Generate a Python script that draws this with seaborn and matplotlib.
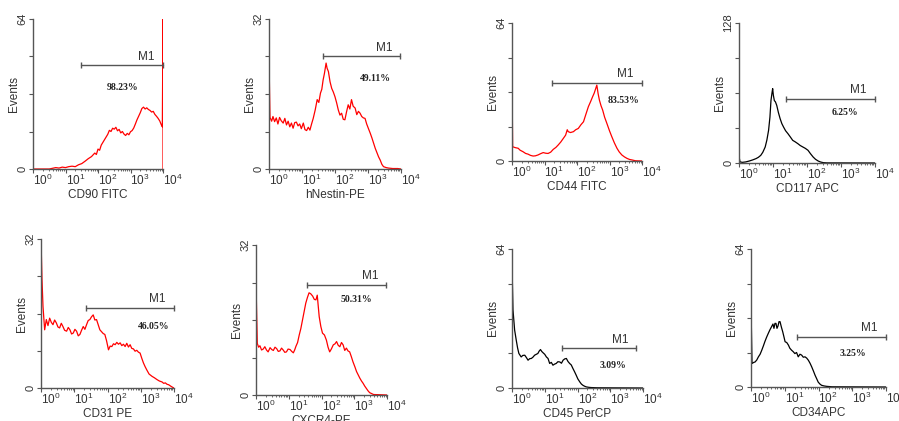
import numpy as np
import pandas as pd
import matplotlib
matplotlib.use("Agg")
import matplotlib.pyplot as plt
import seaborn as sns

# histogram traces, x in decades (10^0 .. 10^4), y = events
cd90_x = [0.0, 0.3, 0.5, 0.6, 0.7, 0.8, 0.9, 1.0, 1.1, 1.2, 1.3, 1.4, 1.5, 1.6, 1.7, 1.8, 1.9, 1.95, 2.0, 2.05,
          2.1, 2.2, 2.3, 2.35, 2.4, 2.45, 2.5, 2.55, 2.6, 2.65, 2.7, 2.75, 2.8, 2.85, 2.9, 2.95, 3.0, 3.05, 3.1,
          3.15, 3.2, 3.25, 3.3, 3.35, 3.4, 3.45, 3.5, 3.55, 3.6, 3.65, 3.7, 3.75, 3.8, 3.85, 3.9, 3.95, 3.98,
          4.0, 4.0]
cd90_y = [0, 0, 0, 0.3, 0.6, 0.4, 0.8, 0.6, 1.0, 1.2, 1.0, 1.8, 2.3, 3.3, 4.4, 5.3, 6.8, 6.2, 8.5, 8.0,
          10.2, 12.5, 14.8, 16.5, 16.0, 17.4, 17.0, 17.8, 16.3, 16.9, 15.4, 16.0, 14.9, 14.3, 15.2, 14.6, 15.9,
          16.4, 17.5, 19.2, 21.0, 22.5, 24.0, 25.8, 26.4, 25.6, 26.1, 25.4, 25.0, 24.3, 24.6, 23.3, 22.5, 21.6,
          20.5, 18.8, 18.0, 64, 0]

nestin_x = [0.0, 0.0, 0.03, 0.08, 0.12, 0.17, 0.22, 0.27, 0.32, 0.37, 0.43, 0.48, 0.53, 0.58, 0.63, 0.68, 0.73,
            0.78, 0.83, 0.88, 0.93, 0.98, 1.04, 1.09, 1.14, 1.19, 1.24, 1.29, 1.34, 1.40, 1.46, 1.51, 1.56, 1.60,
            1.64, 1.68, 1.73, 1.76, 1.80, 1.85, 1.90, 1.95, 2.0, 2.05, 2.10, 2.15, 2.20, 2.25, 2.30, 2.35, 2.40,
            2.45, 2.50, 2.55, 2.61, 2.66, 2.71, 2.76, 2.81, 2.86, 2.91, 2.96, 3.02, 3.07, 3.12, 3.17, 3.22, 3.27,
            3.32, 3.37, 3.42, 3.47, 3.55, 3.62, 3.75, 3.9, 4.0]
nestin_y = [0, 23.4, 11.0, 10.2, 11.2, 10.1, 10.9, 9.6, 11.0, 10.3, 9.8, 10.8, 9.4, 10.2, 9.0, 9.8, 8.7, 9.9,
            10.0, 9.2, 9.6, 8.6, 9.8, 8.4, 8.2, 8.9, 8.3, 9.6, 10.8, 12.6, 14.8, 14.2, 16.2, 17.0, 19.0, 20.4,
            22.6, 21.5, 20.8, 18.6, 17.2, 16.4, 15.4, 14.1, 12.6, 11.5, 11.9, 10.6, 10.5, 12.2, 13.7, 12.8, 14.8,
            13.4, 13.0, 11.6, 12.3, 11.9, 11.2, 10.9, 10.8, 9.6, 8.5, 7.6, 6.6, 5.5, 4.4, 3.5, 2.6, 1.9, 1.0, 0.5,
            0.3, 0.2, 0.1, 0.1, 0]

cd44_x = [0, 0, 0.02, 0.1, 0.19, 0.25, 0.34, 0.42, 0.49, 0.57, 0.65, 0.72, 0.8, 0.88, 0.96, 1.04, 1.11, 1.19,
          1.27, 1.35, 1.42, 1.50, 1.58, 1.65, 1.70, 1.73, 1.80, 1.89, 1.96, 2.04, 2.12, 2.20, 2.27, 2.35, 2.42,
          2.48, 2.53, 2.58, 2.61, 2.65, 2.69, 2.74, 2.79, 2.85, 2.92, 3.0, 3.07, 3.15, 3.23, 3.30, 3.38, 3.46,
          3.54, 3.62, 3.69, 3.8, 4.0]
cd44_y = [0, 37.5, 6.6, 6.2, 5.9, 5.0, 4.3, 3.5, 3.2, 2.6, 2.3, 2.4, 2.8, 3.4, 3.9, 3.6, 3.5, 4.1, 5.4, 6.3,
          7.4, 8.8, 10.5, 12.0, 14.5, 13.6, 13.2, 13.6, 14.5, 15.1, 16.8, 18.2, 21.5, 25.2, 27.6, 29.8, 31.5,
          33.8, 35.2, 31.2, 28.2, 25.6, 23.6, 20.3, 17.4, 14.0, 11.3, 8.4, 5.9, 4.2, 2.8, 1.9, 1.2, 0.7, 0.5,
          0.1, 0]

cd117_x = [0, 0, 0.03, 0.1, 0.2, 0.3, 0.4, 0.5, 0.57, 0.64, 0.70, 0.77, 0.82, 0.87, 0.91, 0.94, 0.97, 0.99,
           1.01, 1.04, 1.07, 1.11, 1.16, 1.21, 1.26, 1.31, 1.37, 1.44, 1.51, 1.58, 1.65, 1.73, 1.80, 1.88,
           1.95, 2.03, 2.10, 2.18, 2.25, 2.33, 2.40, 2.48, 2.6, 4.0]
cd117_y = [0, 6, 1.0, 0.6, 1.0, 1.8, 2.8, 4.0, 5.2, 7.0, 9.8, 14.6, 21, 29.9, 42, 57, 64, 68, 62, 57, 56,
           52.7, 46, 40.5, 36, 32.9, 29.5, 26.8, 23.8, 20.7, 19.4, 17.7, 16.0, 14.6, 13.4, 11.6, 8.6, 5.5,
           3.4, 1.8, 0.9, 0.3, 0.1, 0]

cd31_x = [0, 0, 0.03, 0.06, 0.11, 0.16, 0.21, 0.26, 0.31, 0.36, 0.41, 0.46, 0.51, 0.56, 0.61, 0.66, 0.71,
          0.77, 0.82, 0.87, 0.92, 0.97, 1.02, 1.07, 1.12, 1.17, 1.22, 1.27, 1.32, 1.37, 1.42, 1.47, 1.52, 1.57,
          1.62, 1.67, 1.72, 1.77, 1.82, 1.87, 1.92, 1.97, 2.03, 2.08, 2.13, 2.18, 2.23, 2.28, 2.33, 2.38, 2.43,
          2.48, 2.53, 2.58, 2.63, 2.68, 2.73, 2.78, 2.83, 2.88, 2.93, 2.98, 3.03, 3.08, 3.13, 3.18, 3.25, 3.34,
          3.41, 3.49, 3.56, 3.64, 3.69, 3.74, 3.79, 3.84, 3.9, 3.97, 4.0]
cd31_y = [0, 31.9, 23.3, 17.5, 12.5, 14.7, 13.4, 15.0, 14.1, 13.6, 14.6, 14.0, 13.1, 12.9, 13.9, 13.2, 12.4,
          12.2, 13.0, 12.5, 11.6, 11.8, 12.6, 12.2, 11.2, 11.5, 12.4, 13.2, 12.6, 13.6, 14.5, 14.7, 15.3, 15.7,
          14.6, 14.7, 13.6, 12.5, 12.1, 11.7, 11.5, 10.2, 8.2, 9.0, 8.9, 9.5, 9.3, 9.8, 9.4, 9.7, 9.1, 9.4, 8.9,
          9.6, 8.8, 9.3, 8.5, 8.4, 7.9, 8.1, 7.7, 7.5, 6.4, 5.4, 4.6, 3.9, 3.0, 2.5, 2.2, 1.8, 1.5, 1.3, 1.0,
          1.1, 0.8, 0.7, 0.4, 0.1, 0]

cxcr4_x = [0, 0, 0.04, 0.08, 0.12, 0.17, 0.22, 0.27, 0.32, 0.37, 0.43, 0.48, 0.53, 0.58, 0.63, 0.68, 0.73,
           0.78, 0.83, 0.88, 0.93, 0.98, 1.04, 1.09, 1.14, 1.18, 1.22, 1.27, 1.32, 1.37, 1.42, 1.47, 1.52, 1.57,
           1.62, 1.67, 1.73, 1.78, 1.83, 1.87, 1.90, 1.93, 1.98, 2.03, 2.09, 2.15, 2.20, 2.25, 2.30, 2.36, 2.41,
           2.46, 2.51, 2.56, 2.61, 2.66, 2.71, 2.76, 2.81, 2.86, 2.91, 2.96, 3.02, 3.07, 3.12, 3.17, 3.22, 3.27,
           3.32, 3.37, 3.42, 3.47, 3.53, 3.59, 4.0]
cxcr4_y = [0, 23.8, 11.0, 10.2, 10.5, 9.6, 9.8, 10.3, 9.6, 9.2, 10.1, 9.7, 9.5, 10.2, 9.9, 9.3, 9.4, 10.0,
           9.6, 9.1, 9.2, 9.8, 9.7, 9.3, 9.0, 9.6, 10.4, 11.2, 12.8, 14.2, 16.0, 17.8, 19.6, 20.8, 21.8, 21.6,
           21.1, 20.4, 20.3, 21.3, 19.0, 16.7, 14.6, 13.2, 12.8, 11.7, 10.2, 9.2, 9.8, 10.7, 10.9, 11.4, 10.6,
           10.3, 11.2, 10.7, 9.5, 10.0, 9.4, 9.2, 8.2, 7.1, 6.0, 5.0, 4.3, 3.6, 3.0, 2.5, 1.9, 1.4, 0.9, 0.5,
           0.3, 0.1, 0]

cd45_x = [0, 0, 0.03, 0.08, 0.13, 0.17, 0.21, 0.28, 0.33, 0.39, 0.44, 0.49, 0.54, 0.59, 0.64, 0.69, 0.74,
          0.79, 0.83, 0.87, 0.91, 0.95, 1.0, 1.05, 1.10, 1.15, 1.20, 1.25, 1.30, 1.35, 1.40, 1.46, 1.51, 1.56,
          1.61, 1.66, 1.71, 1.76, 1.81, 1.86, 1.91, 1.96, 2.01, 2.07, 2.12, 2.17, 2.22, 2.27, 2.35, 2.42, 2.6, 4.0]
cd45_y = [0, 56.8, 36, 26.7, 22, 18.5, 15.9, 14.3, 15.0, 15.1, 14.0, 12.8, 13.5, 13.6, 14.2, 15.1, 15.5, 15.9,
          17.0, 17.7, 16.8, 16.2, 15.5, 14.3, 13.6, 11.3, 11.8, 10.5, 11.0, 11.3, 12.1, 12.0, 11.4, 12.8, 13.4,
          13.6, 12.2, 11.3, 10.6, 9.0, 7.5, 5.9, 4.2, 2.8, 1.8, 1.2, 0.8, 0.5, 0.3, 0.2, 0.1, 0]

cd34_x = [0, 0, 0.03, 0.08, 0.12, 0.17, 0.22, 0.27, 0.32, 0.37, 0.41, 0.46, 0.51, 0.56, 0.61, 0.65, 0.68,
          0.71, 0.74, 0.77, 0.80, 0.83, 0.86, 0.90, 0.94, 0.98, 1.01, 1.06, 1.11, 1.15, 1.20, 1.25, 1.30, 1.35,
          1.40, 1.45, 1.50, 1.55, 1.60, 1.65, 1.70, 1.75, 1.80, 1.85, 1.90, 1.95, 1.99, 2.04, 2.09, 2.16, 2.24,
          2.4, 4.0]
cd34_y = [0, 38, 10.9, 11.4, 11.6, 12.5, 14.0, 15.2, 17.1, 19.2, 21.0, 23.0, 24.8, 26.5, 28.0, 29.2, 27.2,
          29.5, 29.5, 27.2, 28.3, 30.3, 30.3, 27.8, 25.6, 23.0, 21.0, 20.6, 19.4, 18.0, 17.1, 16.4, 15.5, 16.0,
          14.0, 15.2, 14.8, 13.8, 14.0, 13.4, 12.4, 11.0, 9.3, 7.4, 5.4, 3.7, 2.3, 1.4, 0.8, 0.5, 0.3, 0.1, 0]

# panel info
markers = ["CD90 FITC", "hNestin-PE", "CD44 FITC", "CD117 APC",
           "CD31 PE", "CXCR4-PE", "CD45 PerCP", "CD34APC"]
y_max = [64, 32, 64, 128, 32, 32, 64, 64]
line_colors = ["red", "red", "red", "black", "red", "red", "black", "black"]
m1_start = [1.47, 1.64, 1.24, 1.39, 1.35, 1.56, 1.53, 1.35]
m1_end = [4.0, 3.98, 4.0, 3.99, 4.0, 3.98, 3.8, 3.99]
m1_level = [44.2, 24.0, 36.4, 58.8, 17.2, 23.5, 18.2, 23.3]
pct_labels = ["98.23%", "49.11%", "83.53%", "6.25%", "46.05%", "50.31%", "3.09%", "3.25%"]
pct_x = [2.75, 3.22, 3.43, 3.12, 3.39, 3.07, 3.08, 3.03]
pct_y = [34.9, 19.4, 28.2, 46.6, 13.2, 20.3, 10.5, 15.5]

traces = [(cd90_x, cd90_y), (nestin_x, nestin_y), (cd44_x, cd44_y), (cd117_x, cd117_y),
          (cd31_x, cd31_y), (cxcr4_x, cxcr4_y), (cd45_x, cd45_y), (cd34_x, cd34_y)]

# axes boxes in pixels: left, right, top, bottom
W, H = 899, 421
boxes = [(33, 163, 19, 169), (269, 401, 19, 169), (512, 642, 23, 161), (739, 875, 23, 163),
         (41, 174, 239, 388), (256, 387, 245, 395), (512, 643, 249, 388), (751, 886, 249, 387)]

sns.set_style("ticks")
plt.rcParams["font.family"] = ["Liberation Sans", "DejaVu Sans"]
plt.rcParams["mathtext.fontset"] = "custom"
plt.rcParams["mathtext.rm"] = "Liberation Sans"
plt.rcParams["mathtext.it"] = "Liberation Sans:italic"
plt.rcParams["mathtext.bf"] = "Liberation Sans:bold"

fig = plt.figure(figsize=(W / 100, H / 100), dpi=100)
axis_grey = "#555555"
text_grey = "#333333"
minor_x = [n + np.log10(k) for n in range(4) for k in range(2, 10)]

for i, (xs, ys) in enumerate(traces):
    l, r, t, b = boxes[i]
    ax = fig.add_axes([l / W, 1 - b / H, (r - l) / W, (b - t) / H])
    df = pd.DataFrame({"channel": xs, "events": ys})
    sns.lineplot(data=df, x="channel", y="events", ax=ax, color=line_colors[i],
                 lw=0.9, estimator=None, sort=False)
    ax.set_xlim(0, 4)
    ax.set_ylim(0, y_max[i])
    sns.despine(ax=ax)
    for s in ["left", "bottom"]:
        ax.spines[s].set_color(axis_grey)
        ax.spines[s].set_linewidth(1.0)

    ax.set_xticks(range(5))
    ax.set_xticklabels([r"$10^{%d}$" % n for n in range(5)], fontsize=8.5, color=text_grey)
    for lab in ax.get_xticklabels():
        lab.set_horizontalalignment("left")
    ax.set_xticks(minor_x, minor=True)
    q = y_max[i] / 4
    ax.set_yticks([0, q, 2 * q, 3 * q, y_max[i]])
    ax.set_yticklabels(["0", "", "", "", str(y_max[i])], rotation=90, va="center",
                       fontsize=8, color=text_grey)
    ax.tick_params(axis="both", which="major", length=3, width=0.8, color=axis_grey, pad=1)
    ax.tick_params(axis="x", which="major", pad=0)
    ax.tick_params(axis="x", which="minor", length=1.5, width=0.6, color=axis_grey)

    ax.set_xlabel(markers[i], fontsize=8.5, color=text_grey, labelpad=0.5)
    ax.set_ylabel("Events", fontsize=8.5, color=text_grey, labelpad=-2)

    # M1 marker bar
    ax.plot([m1_start[i], m1_end[i]], [m1_level[i], m1_level[i]], color=axis_grey, lw=1.0,
            marker="|", markersize=5, markeredgewidth=1.0, clip_on=False)
    ax.annotate("M1", (m1_end[i], m1_level[i]), xytext=(-6, 2), textcoords="offset points",
                ha="right", va="bottom", fontsize=8.5, color=text_grey)
    ax.text(pct_x[i], pct_y[i], pct_labels[i], ha="center", va="center", fontsize=7,
            fontweight="bold", family=["Liberation Serif", "DejaVu Serif"], color="#222222")

fig.savefig("out.png", dpi=100)
